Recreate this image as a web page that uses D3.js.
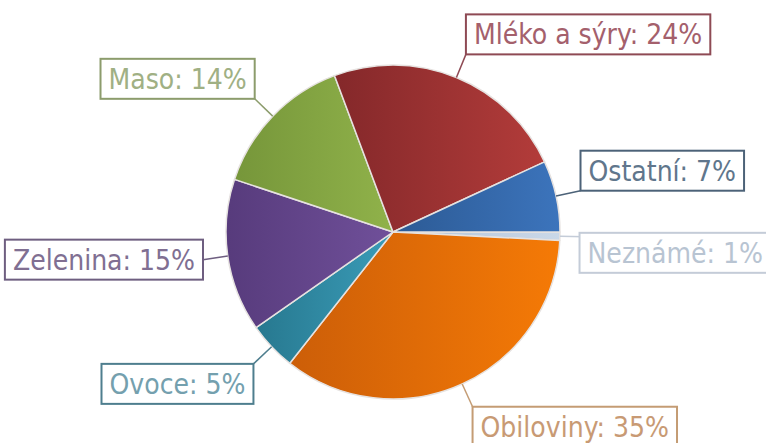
<!DOCTYPE html>
<html><head><meta charset="utf-8">
<script src="https://cdn.jsdelivr.net/npm/d3@7"></script>
<style>html,body{margin:0;padding:0;background:#fff;}svg{display:block;}</style>
</head><body>
<svg id="c" width="766" height="443"></svg>
<script>
const categories = ["Neznámé", "Obiloviny", "Ovoce", "Zelenina", "Maso", "Mléko a sýry", "Ostatní"];
const values = [0.8, 34.8, 4.7, 14.8, 14.2, 23.8, 6.9];
const shownPct = [1, 35, 5, 15, 14, 24, 7];
const colorsDark = ["#b4c4d8", "#cc5e08", "#27788f", "#573b7c", "#76963a", "#84282a", "#2c5a94"];
const colorsLight = ["#cad8e8", "#f57a06", "#3a9cb8", "#70509a", "#90b24a", "#b33c3a", "#3c74bc"];
const borderColors = ["#c4ccd8", "#c49c74", "#4e7e8e", "#6e5e80", "#8c9c6c", "#8e4a54", "#4c6278"];
const textColors = ["#b8c4d2", "#c89a74", "#74a0ae", "#806f92", "#a0b084", "#a4606c", "#60768c"];
const vAnchor = [0.1, 0, 0, 0.5, 1, 1, 1];

const W = 766, H = 443;
const cx = 393, cy = 232, R = 167, leaderLen = 25;
const svg = d3.select("#c");
const defs = svg.append("defs");

categories.forEach((c, i) => {
  const g = defs.append("linearGradient").attr("id", "g" + i)
    .attr("x1", "0%").attr("y1", "0%").attr("x2", "100%").attr("y2", "0%");
  g.append("stop").attr("offset", "0%").attr("stop-color", colorsDark[i]);
  g.append("stop").attr("offset", "100%").attr("stop-color", colorsLight[i]);
});

const pie = d3.pie().sort(null).value(d => d)
  .startAngle(Math.PI / 2).endAngle(Math.PI / 2 + 2 * Math.PI);
const arcs = pie(values);
const arc = d3.arc().innerRadius(0).outerRadius(R);

const gPie = svg.append("g").attr("transform", `translate(${cx},${cy})`);
gPie.selectAll("path").data(arcs).enter().append("path")
  .attr("d", arc)
  .attr("fill", (d, i) => `url(#g${i})`)
  .attr("stroke", "#e6e2e0").attr("stroke-width", 1.5).attr("stroke-linejoin", "round");

const gLab = svg.append("g").attr("transform", `translate(${cx},${cy})`);
const fontSize = 28;
arcs.forEach((d, i) => {
  const a = (d.startAngle + d.endAngle) / 2;
  const sx = Math.sin(a) * R, sy = -Math.cos(a) * R;
  const ex = Math.sin(a) * (R + leaderLen), ey = -Math.cos(a) * (R + leaderLen);
  gLab.append("line").attr("x1", sx).attr("y1", sy).attr("x2", ex).attr("y2", ey)
    .attr("stroke", borderColors[i]).attr("stroke-width", 1.5);
  const txt = gLab.append("text")
    .attr("font-family", "'DejaVu Sans Condensed','DejaVu Sans',sans-serif")
    .attr("font-stretch", "condensed")
    .attr("font-size", fontSize)
    .attr("fill", textColors[i])
    .text(`${categories[i]}: ${shownPct[i]}%`);
  const tw = txt.node().getComputedTextLength();
  const bw = tw + 16, bh = 40;
  let bx = ex >= 0 ? ex : ex - bw;
  // keep the label text inside the picture
  bx = Math.min(bx, W - cx - 3 - 8 - tw);
  bx = Math.max(bx, -cx + 2);
  const by = ey - vAnchor[i] * bh;
  gLab.insert("rect", "text").attr("x", bx).attr("y", by).attr("width", bw).attr("height", bh)
    .attr("fill", "#fff").attr("stroke", borderColors[i]).attr("stroke-width", 2);
  txt.attr("x", bx + 8).attr("y", by + bh / 2 + fontSize * 0.36);
});
</script>
</body></html>
